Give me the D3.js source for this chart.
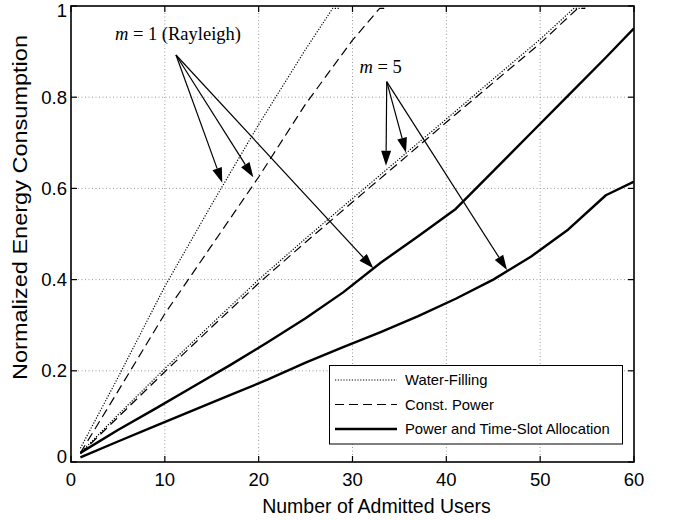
<!DOCTYPE html>
<html>
<head>
<meta charset="utf-8">
<script src="https://cdn.jsdelivr.net/npm/d3@7/dist/d3.min.js"></script>
<style>
  html, body { margin: 0; padding: 0; background: #fff; }
  svg { display: block; }
</style>
</head>
<body>
<svg id="chart" width="673" height="520"></svg>
<script>
// Number of admitted users (x) and normalized energy consumption (y) per scheme.
const wfRayleighUsers = [1, 5, 10, 15, 20, 25, 27.9, 28.6];
const wfRayleighEnergy = [0.03, 0.185, 0.385, 0.565, 0.74, 0.905, 0.995, 0.995];

const cpRayleighUsers = [1, 5, 10, 15, 20, 25, 30, 32.9, 33.6];
const cpRayleighEnergy = [0.02, 0.155, 0.325, 0.475, 0.625, 0.785, 0.925, 0.995, 0.995];

const wfM5Users = [1, 5, 10, 15, 20, 25, 30, 35, 40, 45, 50, 53.6, 54.8];
const wfM5Energy = [0.02, 0.103, 0.205, 0.303, 0.4, 0.49, 0.578, 0.665, 0.752, 0.84, 0.927, 0.995, 0.995];

const cpM5Users = [1, 5, 10, 15, 20, 25, 30, 35, 40, 45, 50, 54.0, 54.8];
const cpM5Energy = [0.018, 0.098, 0.198, 0.296, 0.392, 0.482, 0.57, 0.657, 0.745, 0.832, 0.918, 0.995, 0.995];

const ptaUsers = [1, 5, 9, 13, 17, 21, 25, 29, 33, 37, 41, 45, 49, 53, 57, 60];
const ptaRayleighEnergy = [0.02, 0.07, 0.117, 0.165, 0.213, 0.263, 0.315, 0.372, 0.437, 0.495, 0.555, 0.638, 0.721, 0.804, 0.887, 0.951];
const ptaM5Energy = [0.01, 0.045, 0.079, 0.113, 0.147, 0.181, 0.218, 0.252, 0.285, 0.32, 0.358, 0.40, 0.45, 0.51, 0.585, 0.615];

const xTicks = [0, 10, 20, 30, 40, 50, 60];
const yTicks = [0, 0.2, 0.4, 0.6, 0.8, 1];
const yTickLabels = ["0", "0.2", "0.4", "0.6", "0.8", "1"];

const legendLabels = ["Water-Filling", "Const. Power", "Power and Time-Slot Allocation"];

// Annotation arrows: [tailX, tailY, tipX, tipY] in data units.
const rayleighArrows = [
  [11.19, 0.8925, 16.12, 0.6125],
  [11.19, 0.8925, 19.43, 0.6243],
  [11.19, 0.8925, 32.22, 0.4248]
];
const m5Arrows = [
  [33.65, 0.834, 33.57, 0.6498],
  [33.65, 0.834, 35.70, 0.6783],
  [33.65, 0.834, 46.47, 0.421]
];

const svg = d3.select("#chart");
const plotL = 71, plotR = 634, plotT = 6, plotB = 462;

const x = d3.scaleLinear().domain([0, 60]).range([plotL, plotR]);
const y = d3.scaleLinear().domain([0, 1]).range([plotB, plotT]);

const sans = "'Liberation Sans', Arial, Helvetica, sans-serif";
const serif = "'Liberation Serif', 'Times New Roman', serif";

svg.append("rect").attr("width", 673).attr("height", 520).attr("fill", "#fff");

// Grid
const grid = svg.append("g").attr("stroke", "#9a9a9a").attr("stroke-width", 1)
  .attr("stroke-dasharray", "1,2.5").attr("fill", "none");
xTicks.slice(1, -1).forEach(t => {
  grid.append("line").attr("x1", x(t)).attr("x2", x(t)).attr("y1", plotT).attr("y2", plotB);
});
yTicks.slice(1, -1).forEach(t => {
  grid.append("line").attr("y1", y(t)).attr("y2", y(t)).attr("x1", plotL).attr("x2", plotR);
});

// Clip for the data
svg.append("clipPath").attr("id", "plotClip").append("rect")
  .attr("x", plotL).attr("y", plotT).attr("width", plotR - plotL).attr("height", plotB - plotT);

const line = d3.line().x(d => x(d[0])).y(d => y(d[1]));
const zip = (xs, ys) => xs.map((v, i) => [v, ys[i]]);

const plot = svg.append("g").attr("clip-path", "url(#plotClip)").attr("fill", "none").attr("stroke", "#000");

const styles = {
  dotted: { w: 1.2, dash: "1.2,1.6" },
  dashed: { w: 1.2, dash: "9,5" },
  solid: { w: 2.4, dash: null }
};

function drawSeries(xs, ys, style) {
  plot.append("path").datum(zip(xs, ys))
    .attr("d", line)
    .attr("stroke-width", styles[style].w)
    .attr("stroke-dasharray", styles[style].dash)
    .attr("stroke-linejoin", "round");
}

drawSeries(cpM5Users, cpM5Energy, "dashed");
drawSeries(wfM5Users, wfM5Energy, "dotted");
drawSeries(cpRayleighUsers, cpRayleighEnergy, "dashed");
drawSeries(wfRayleighUsers, wfRayleighEnergy, "dotted");
drawSeries(ptaUsers, ptaRayleighEnergy, "solid");
drawSeries(ptaUsers, ptaM5Energy, "solid");

// Axes box with inward ticks on all four sides
const axes = svg.append("g").attr("stroke", "#000").attr("fill", "none");
axes.append("rect").attr("x", plotL).attr("y", plotT).attr("width", plotR - plotL).attr("height", plotB - plotT)
  .attr("stroke-width", 1.6);
const tickLen = 6;
xTicks.forEach(t => {
  axes.append("line").attr("x1", x(t)).attr("x2", x(t)).attr("y1", plotB).attr("y2", plotB - tickLen).attr("stroke-width", 1.2);
  axes.append("line").attr("x1", x(t)).attr("x2", x(t)).attr("y1", plotT).attr("y2", plotT + tickLen).attr("stroke-width", 1.2);
});
yTicks.forEach(t => {
  axes.append("line").attr("y1", y(t)).attr("y2", y(t)).attr("x1", plotL).attr("x2", plotL + tickLen).attr("stroke-width", 1.2);
  axes.append("line").attr("y1", y(t)).attr("y2", y(t)).attr("x1", plotR).attr("x2", plotR - tickLen).attr("stroke-width", 1.2);
});

// Tick labels
const tickFont = 18.5;
svg.append("g").selectAll("text").data(xTicks).join("text")
  .attr("x", d => x(d)).attr("y", plotB + 24)
  .attr("text-anchor", "middle")
  .attr("font-family", sans).attr("font-size", tickFont)
  .text(d => d);

svg.append("g").selectAll("text").data(yTicks).join("text")
  .attr("x", plotL - 4)
  .attr("y", (d, i) => {
    let cy = y(d);
    if (i === yTicks.length - 1) cy += 5;   // keep the top label inside the frame
    if (i === 0) cy -= 5;                   // lift the zero label off the x labels
    return cy;
  })
  .attr("dy", "0.35em")
  .attr("text-anchor", "end")
  .attr("font-family", sans).attr("font-size", tickFont)
  .text((d, i) => yTickLabels[i]);

// Axis titles
svg.append("text")
  .attr("x", (plotL + plotR) / 2 + 24).attr("y", 513)
  .attr("text-anchor", "middle")
  .attr("font-family", sans).attr("font-size", 19.5)
  .text("Number of Admitted Users");

svg.append("text")
  .attr("transform", `translate(27,207.5) rotate(-90)`)
  .attr("text-anchor", "middle")
  .attr("font-family", sans).attr("font-size", 20)
  .attr("textLength", 345).attr("lengthAdjust", "spacingAndGlyphs")
  .text("Normalized Energy Consumption");

// Annotation arrows
const ann = svg.append("g");
function arrow(a) {
  const x0 = x(a[0]), y0 = y(a[1]), x1 = x(a[2]), y1 = y(a[3]);
  const dx = x1 - x0, dy = y1 - y0, len = Math.hypot(dx, dy);
  const ux = dx / len, uy = dy / len;
  const headL = 15, headW = 5;
  const bx = x1 - ux * headL, by = y1 - uy * headL;
  ann.append("line").attr("x1", x0).attr("y1", y0).attr("x2", bx).attr("y2", by)
    .attr("stroke", "#000").attr("stroke-width", 1.2);
  ann.append("path")
    .attr("d", `M${x1},${y1}L${bx - uy * headW},${by + ux * headW}L${bx + uy * headW},${by - ux * headW}Z`)
    .attr("fill", "#000");
}
rayleighArrows.forEach(arrow);
m5Arrows.forEach(arrow);

function annotation(cx, cy, rest) {
  const t = svg.append("text").attr("x", x(cx)).attr("y", y(cy))
    .attr("text-anchor", "middle").attr("font-family", serif).attr("font-size", 18.5);
  t.append("tspan").attr("font-style", "italic").text("m");
  t.append("tspan").text(rest);
}
annotation(11.4, 0.925, " = 1 (Rayleigh)");
annotation(33.0, 0.854, " = 5");

// Legend
const lg = svg.append("g");
lg.append("rect").attr("x", 329.5).attr("y", 365.5).attr("width", 293).attr("height", 78.5)
  .attr("fill", "#fff").attr("stroke", "#000").attr("stroke-width", 1);
const legendStyles = ["dotted", "dashed", "solid"];
legendLabels.forEach((lab, i) => {
  const ry = 380 + i * 24.5;
  const st = styles[legendStyles[i]];
  lg.append("line").attr("x1", 335).attr("x2", 397).attr("y1", ry).attr("y2", ry)
    .attr("stroke", "#000").attr("stroke-width", st.w).attr("stroke-dasharray", st.dash);
  lg.append("text").attr("x", 405).attr("y", ry).attr("dy", "0.35em")
    .attr("font-family", sans).attr("font-size", 14.8).text(lab);
});
</script>
</body>
</html>
